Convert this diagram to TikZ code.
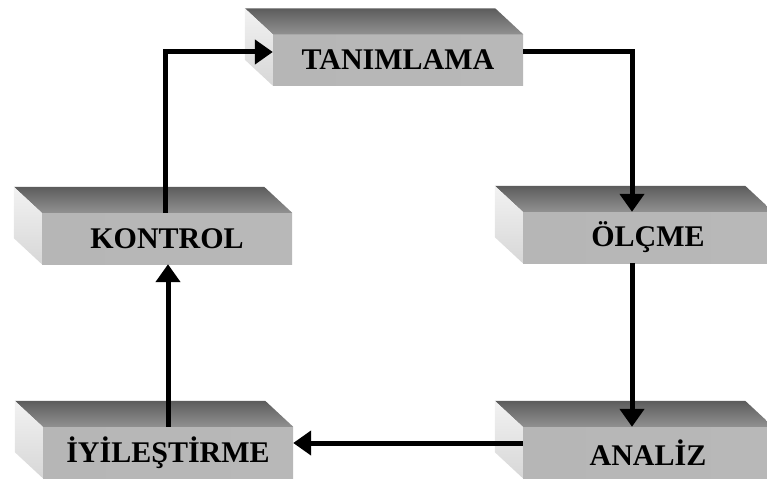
\documentclass[tikz,border=0pt]{standalone}
\usepackage{fontspec}
\setmainfont{Liberation Serif}
\usetikzlibrary{arrows.meta,calc}

\definecolor{frontL}{RGB}{182,182,182}
\definecolor{frontM}{RGB}{216,216,216}
\definecolor{frontR}{RGB}{184,184,184}
\definecolor{topBack}{RGB}{92,92,92}
\definecolor{topFront}{RGB}{145,145,145}
\definecolor{sideTop}{RGB}{242,242,242}
\definecolor{sideBot}{RGB}{215,215,215}

% top and left faces of a slab, hung on the front-face node #1
\newcommand\slabfaces[1]{%
  \shade[top color=topBack,bottom color=topFront]
    (#1.north west) -- (#1.north east) -- ($(#1.north east)+(-28,-26)$)
    -- ($(#1.north west)+(-28,-26)$) -- cycle;
  \shade[top color=sideTop,bottom color=sideBot]
    (#1.north west) -- (#1.south west) -- ($(#1.south west)+(-28,-26)$)
    -- ($(#1.north west)+(-28,-26)$) -- cycle;
}

\begin{document}
\begin{tikzpicture}[x=1pt,y=-1pt,
  slab/.style={rectangle,inner sep=0pt,minimum width=250pt,minimum height=51pt,
    left color=frontL,middle color=frontM,right color=frontR,
    font=\fontsize{30}{30}\selectfont\bfseries},
  flow/.style={line width=5pt,-{Triangle[length=18pt,width=24pt]}}]
\useasboundingbox (0,0) rectangle (767,481);

\node[slab] (tan) at (398,60)    {TANIMLAMA};
\node[slab] (kon) at (167,238.5) {KONTROL};
\node[slab] (olc) at (648,237.5) {ÖLÇME};
\node[slab] (ana) at (648,452.5) {ANALİZ};
\node[slab] (iyi) at (168,452.5) {İYİLEŞTİRME};

\slabfaces{tan}
\slabfaces{kon}
\slabfaces{olc}
\slabfaces{ana}
\slabfaces{iyi}

\draw[flow] ([xshift=-2pt]kon.north) |- ([yshift=8pt]tan.west);
\draw[flow] ([yshift=8pt]tan.east) -| ([xshift=-16pt]olc.north);
\draw[flow] ([xshift=-16pt]olc.south) -- ([xshift=-16pt]ana.north);
\draw[flow] ([yshift=9.5pt]ana.west) -- ([yshift=9.5pt]iyi.east);
\draw[flow] (iyi.north) -- (iyi.north |- kon.south);
\end{tikzpicture}
\end{document}
